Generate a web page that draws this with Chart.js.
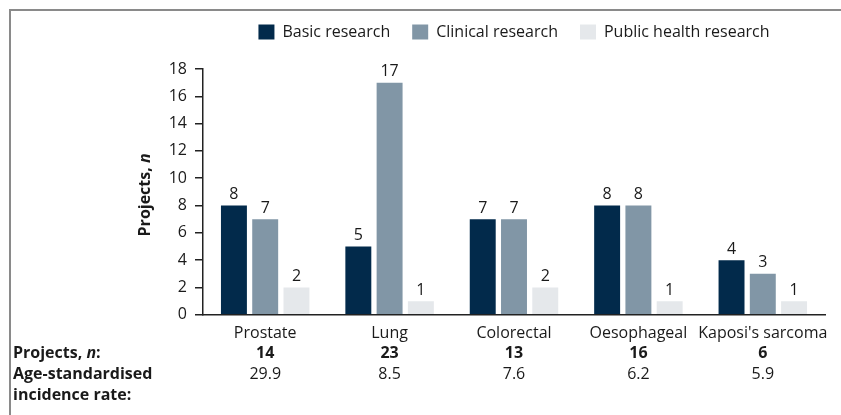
<!DOCTYPE html>
<html>
<head>
<meta charset="utf-8">
<script src="https://cdn.jsdelivr.net/npm/chart.js@4"></script>
<style>
  html, body { margin: 0; padding: 0; background: #fff; }
  #wrap { position: relative; width: 841px; height: 415px; overflow: hidden; }
  #frame {
    position: absolute; left: 9px; top: 9px; right: -10px; bottom: -10px;
    border-top: 2px solid #8a8a8a; border-left: 2px solid #8a8a8a;
  }
  canvas { position: absolute; left: 0; top: 0; }
</style>
</head>
<body>
<div id="wrap">
  <div id="frame"></div>
  <canvas id="chart" width="841" height="415"></canvas>
</div>
<script>
const FONT = "'Open Sans', 'Noto Sans', sans-serif";
const INK = "#1a1a1a";

// data
const categories = ["Prostate", "Lung", "Colorectal", "Oesophageal", "Kaposi's sarcoma"];
const basic = [8, 5, 7, 8, 4];
const clinical = [7, 17, 7, 8, 3];
const publicHealth = [2, 1, 2, 1, 1];
const projectsTotal = [14, 23, 13, 16, 6];
const incidenceRate = ["29.9", "8.5", "7.6", "6.2", "5.9"];

// leave some room between the legend and the plot
const legendGap = {
  id: "legendGap",
  beforeLayout(chart) {
    const lg = chart.legend;
    if (!lg || lg._gapped) return;
    const fit = lg.fit;
    lg.fit = function () {
      fit.call(this);
      this.height += 19;
    };
    lg._gapped = true;
  },
};

// value labels on top of each bar
const barLabels = {
  id: "barLabels",
  afterDatasetsDraw(chart) {
    const ctx = chart.ctx;
    ctx.save();
    ctx.font = `16px ${FONT}`;
    ctx.fillStyle = INK;
    ctx.textAlign = "center";
    ctx.textBaseline = "bottom";
    chart.data.datasets.forEach((ds, i) => {
      chart.getDatasetMeta(i).data.forEach((bar, j) => {
        ctx.fillText(String(ds.data[j]), bar.x, bar.y - 3);
      });
    });
    ctx.restore();
  },
};

// y title with italic n, and the table under the axis
const extras = {
  id: "extras",
  afterDraw(chart) {
    const ctx = chart.ctx;
    const area = chart.chartArea;
    const x = chart.scales.x;
    ctx.save();
    ctx.fillStyle = INK;

    // rotated axis title
    ctx.save();
    ctx.translate(145, (area.top + area.bottom) / 2 + 3);
    ctx.rotate(-Math.PI / 2);
    ctx.textBaseline = "middle";
    const a = "Projects, ";
    ctx.font = `bold 16px ${FONT}`;
    const wa = ctx.measureText(a).width;
    ctx.font = `italic bold 16px ${FONT}`;
    const wn = ctx.measureText("n").width;
    let sx = -(wa + wn) / 2;
    ctx.textAlign = "left";
    ctx.font = `bold 16px ${FONT}`;
    ctx.fillText(a, sx, 0);
    ctx.font = `italic bold 16px ${FONT}`;
    ctx.fillText("n", sx + wa, 0);
    ctx.restore();

    // row labels
    ctx.textBaseline = "middle";
    ctx.textAlign = "left";
    const lx = 13;
    ctx.font = `bold 16px ${FONT}`;
    ctx.fillText("Projects, ", lx, 353);
    let w = ctx.measureText("Projects, ").width;
    ctx.font = `italic bold 16px ${FONT}`;
    ctx.fillText("n", lx + w, 353);
    w += ctx.measureText("n").width;
    ctx.font = `bold 16px ${FONT}`;
    ctx.fillText(":", lx + w, 353);
    ctx.fillText("Age-standardised", lx, 374);
    ctx.fillText("incidence rate:", lx, 395);

    // row values, centred on each category
    ctx.textAlign = "center";
    categories.forEach((c, i) => {
      const px = x.getPixelForValue(i);
      ctx.font = `bold 16px ${FONT}`;
      ctx.fillText(String(projectsTotal[i]), px, 353);
      ctx.font = `16px ${FONT}`;
      ctx.fillText(incidenceRate[i], px, 374);
    });
    ctx.restore();
  },
};

new Chart(document.getElementById("chart"), {
  type: "bar",
  data: {
    labels: categories,
    datasets: [
      { label: "Basic research", data: basic, backgroundColor: "#022a4b" },
      { label: "Clinical research", data: clinical, backgroundColor: "#8196a6" },
      { label: "Public health research", data: publicHealth, backgroundColor: "#e5e8eb" },
    ],
  },
  options: {
    responsive: false,
    animation: false,
    devicePixelRatio: 1,
    categoryPercentage: 0.754,
    barPercentage: 0.83,
    layout: { padding: { left: 0, right: 16, top: 2, bottom: 71 } },
    plugins: {
      tooltip: { enabled: false },
      legend: {
        position: "top",
        fullSize: false,
        labels: {
          boxWidth: 16,
          boxHeight: 15,
          padding: 22,
          color: INK,
          font: { family: FONT, size: 16 },
        },
      },
    },
    scales: {
      x: {
        grid: { display: false },
        border: { display: true, color: "#222", width: 1.5 },
        ticks: {
          color: INK,
          padding: 1,
          maxRotation: 0,
          minRotation: 0,
          autoSkip: false,
          font: { family: FONT, size: 16 },
        },
      },
      y: {
        min: 0,
        max: 18,
        afterFit(scale) { scale.width = 203; },
        grid: { drawOnChartArea: false, drawTicks: true, tickLength: 8, color: "#222", lineWidth: 1.5 },
        border: { display: true, color: "#222", width: 1.5 },
        ticks: { stepSize: 2, color: INK, padding: 8, font: { family: FONT, size: 16 } },
      },
    },
  },
  plugins: [legendGap, barLabels, extras],
});
</script>
</body>
</html>
